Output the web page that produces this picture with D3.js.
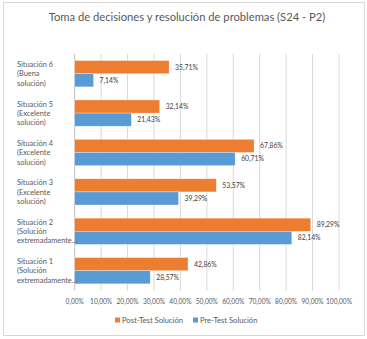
<!DOCTYPE html>
<html lang="es">
<head>
<meta charset="utf-8">
<title>Toma de decisiones</title>
<script src="https://d3js.org/d3.v7.min.js"></script>
<style>
  body { margin: 0; background: #fff; }
  svg text { font-family: "Lato", "Open Sans", sans-serif; }
</style>
</head>
<body>
<script>
// categories, bottom to top as in the sheet
var categories = [
  ["Situación 1", "(Solución", "extremadamente…"],
  ["Situación 2", "(Solución", "extremadamente…"],
  ["Situación 3", "(Excelente", "solución)"],
  ["Situación 4", "(Excelente", "solución)"],
  ["Situación 5", "(Excelente", "solución)"],
  ["Situación 6", "(Buena", "solución)"]
];
var postTest = [42.86, 89.29, 53.57, 67.86, 32.14, 35.71];
var preTest  = [28.57, 82.14, 39.29, 60.71, 21.43, 7.14];
var seriesNames = ["Post-Test Solución", "Pre-Test Solución"];
var seriesColors = ["#ED7D31", "#5B9BD5"];
var xTicks = [0, 10, 20, 30, 40, 50, 60, 70, 80, 90, 100];

var w = 367, h = 339;
var svg = d3.select("body").append("svg")
    .attr("width", w)
    .attr("height", h);

// outer chart border
svg.append("rect")
    .attr("x", 3.5).attr("y", 2.5)
    .attr("width", 361).attr("height", 333)
    .attr("fill", "#fff")
    .attr("stroke", "#d9d9d9");

svg.append("text")
    .attr("x", 187).attr("y", 21)
    .attr("text-anchor", "middle")
    .attr("font-size", 11.2)
    .attr("fill", "#595959")
    .text("Toma de decisiones y resolución de problemas (S24 - P2)");

var x = d3.scaleLinear().domain([0, 100]).range([74.7, 339]);
var y = d3.scaleBand()
    .domain(d3.range(categories.length).reverse())
    .range([54, 290.4]);
var inner = d3.scaleBand().domain([0, 1]).range([0, y.bandwidth()]).paddingInner(0).paddingOuter(0.5);

// gridlines
svg.append("g").selectAll("line")
    .data(xTicks.slice(1))
    .join("line")
    .attr("x1", function(d) { return x(d); })
    .attr("x2", function(d) { return x(d); })
    .attr("y1", 54).attr("y2", 290.4)
    .attr("stroke", "#d9d9d9");

// vertical axis line
svg.append("line")
    .attr("x1", x(0)).attr("x2", x(0))
    .attr("y1", 54).attr("y2", 290.4)
    .attr("stroke", "#bfbfbf");

// x tick labels
svg.append("g").selectAll("text")
    .data(xTicks)
    .join("text")
    .attr("x", function(d) { return x(d); })
    .attr("y", 304)
    .attr("text-anchor", "middle")
    .attr("font-size", 6.6)
    .attr("fill", "#595959")
    .text(function(d) { return d.toFixed(2).replace(".", ",") + "%"; });

var fmt = function(v) { return v.toFixed(2).replace(".", ",") + "%"; };
var series = [postTest, preTest];

series.forEach(function(vals, s) {
  var g = svg.append("g");
  g.selectAll("rect")
    .data(vals)
    .join("rect")
    .attr("x", x(0))
    .attr("y", function(d, i) { return y(i) + inner(s); })
    .attr("width", function(d) { return x(d) - x(0); })
    .attr("height", inner.bandwidth())
    .attr("fill", seriesColors[s])
    .attr("stroke", "#fff")
    .attr("stroke-opacity", 0.5)
    .attr("stroke-width", 0.6);
  g.selectAll("text")
    .data(vals)
    .join("text")
    .attr("x", function(d) { return x(d) + 6; })
    .attr("y", function(d, i) { return y(i) + inner(s) + inner.bandwidth() / 2 + 2.4; })
    .attr("font-size", 6.8)
    .attr("fill", "#404040")
    .text(fmt);
});

// category labels
var cat = svg.append("g").selectAll("text")
    .data(categories)
    .join("text")
    .attr("x", 17)
    .attr("y", function(d, i) { return y(i) + y.bandwidth() / 2 - 6.6; })
    .attr("font-size", 7.4)
    .attr("fill", "#595959");
cat.selectAll("tspan")
    .data(function(d) { return d; })
    .join("tspan")
    .attr("x", 17)
    .attr("dy", function(d, i) { return i === 0 ? 0 : 9.3; })
    .text(function(d) { return d; });

// legend
var legX = [115, 193];
seriesNames.forEach(function(n, s) {
  svg.append("rect")
    .attr("x", legX[s]).attr("y", 317.5)
    .attr("width", 5).attr("height", 5)
    .attr("fill", seriesColors[s]);
  svg.append("text")
    .attr("x", legX[s] + 7).attr("y", 322.8)
    .attr("font-size", 7.6)
    .attr("fill", "#595959")
    .text(n);
});
</script>
</body>
</html>
